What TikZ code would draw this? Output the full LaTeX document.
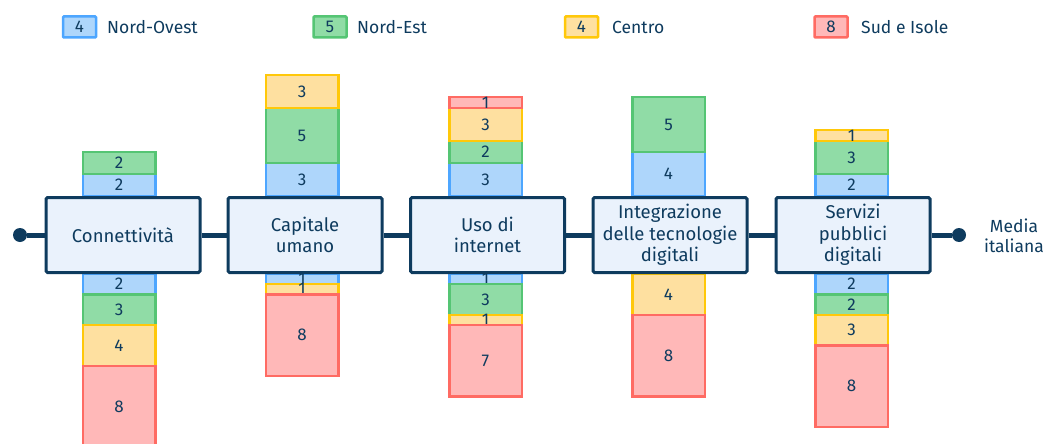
\documentclass[tikz,border=0pt]{standalone}
\usepackage{fontspec}
\setmainfont{Fira Sans}
\definecolor{ink}{HTML}{0E3B5E}
\definecolor{boxfill}{HTML}{EAF2FC}
\definecolor{nwF}{HTML}{AED6FB}\definecolor{nwD}{HTML}{4DA6FF}
\definecolor{neF}{HTML}{90DCA6}\definecolor{neD}{HTML}{55C574}
\definecolor{ceF}{HTML}{FEE0A0}\definecolor{ceD}{HTML}{FFC80A}
\definecolor{suF}{HTML}{FFB8B8}\definecolor{suD}{HTML}{FF6B63}

% stacked bar: #1 x-centre, #2 start y, #3 signed unit height, #4 list colour/value
\newcommand\stackbar[4]{%
  \xdef\ycur{#2}%
  \foreach \c/\v in {#4}{%
    \pgfmathsetmacro\ynext{\ycur+(#3)*\v}%
    \draw[seg=\c] (#1-36.25,\ycur) rectangle (#1+36.25,\ynext);
    \node[segnum] at (#1,{(\ycur+\ynext)/2}) {\v};
    \global\let\ycur\ynext
  }%
}

\begin{document}
\begin{tikzpicture}[x=1pt,y=-1pt,
  seg/.style={draw=#1D,fill=#1F,line width=2.5pt},
  segnum/.style={text=ink,font=\fontsize{17}{17}\selectfont,inner sep=0pt},
  catbox/.style={draw=ink,fill=boxfill,line width=3pt,rounded corners=1.5pt,
    minimum width=154pt,minimum height=75pt,align=center,text=ink,
    font=\fontsize{18.5}{21.5}\selectfont,inner sep=0pt},
  endpt/.style={circle,fill=ink,minimum size=14pt,inner sep=0pt},
  legbox/.style={draw=#1D,fill=#1F,line width=2.5pt,rounded corners=1pt,
    minimum width=33pt,minimum height=21pt,inner sep=0pt,text=ink,
    font=\fontsize{17}{17}\selectfont},
  legtext/.style={anchor=west,inner sep=0pt,text=ink,font=\fontsize{17.5}{17.5}\selectfont},
  spine/.style={draw=ink,line width=5pt}]
\useasboundingbox (0,0) rectangle (1046,444);

% legend
\node[legbox=nw] (l1) at (79.5,27) {4};
\node[legtext] (t1) at (107,27) {Nord-Ovest};
\node[legbox=ne] (l2) at (330,27) {5};
\node[legtext] (t2) at (357,27) {Nord-Est};
\node[legbox=ce] (l3) at (581.5,27) {4};
\node[legtext] (t3) at (612,27) {Centro};
\node[legbox=su] (l4) at (831,27) {8};
\node[legtext] (t4) at (861,27) {Sud e Isole};

% stacked bars above and below each dimension
\stackbar{119}{196}{-11}{nw/2,ne/2}
\stackbar{119}{274}{10.2}{nw/2,ne/3,ce/4,su/8}
\stackbar{302}{196}{-11}{nw/3,ne/5,ce/3}
\stackbar{302}{274}{10.2}{nw/1,ce/1,su/8}
\stackbar{485.5}{196}{-11}{nw/3,ne/2,ce/3,su/1}
\stackbar{485.5}{274}{10.2}{nw/1,ne/3,ce/1,su/7}
\stackbar{668.5}{196}{-11}{nw/4,ne/5}
\stackbar{668.5}{274}{10.2}{ce/4,su/8}
\stackbar{851.5}{196}{-11}{nw/2,ne/3,ce/1}
\stackbar{851.5}{274}{10.2}{nw/2,ne/2,ce/3,su/8}

% spine with end points
\node[endpt] (start) at (20,235) {};
\node[endpt] (end) at (959,235) {};
\node[catbox] (c1) at (123,235) {Connettività};
\node[catbox] (c2) at (305,235) {Capitale\\umano};
\node[catbox] (c3) at (487.5,235) {Uso di\\internet};
\node[catbox] (c4) at (670,235) {Integrazione\\delle tecnologie\\digitali};
\node[catbox] (c5) at (853,235) {Servizi\\pubblici\\digitali};
\draw[spine] (start) -- (c1);
\draw[spine] (c1) -- (c2);
\draw[spine] (c2) -- (c3);
\draw[spine] (c3) -- (c4);
\draw[spine] (c4) -- (c5);
\draw[spine] (c5) -- (end);
\node[align=center,text=ink,font=\fontsize{17.5}{19.5}\selectfont] (media) at (1014,236) {Media\\italiana};
\end{tikzpicture}
\end{document}
